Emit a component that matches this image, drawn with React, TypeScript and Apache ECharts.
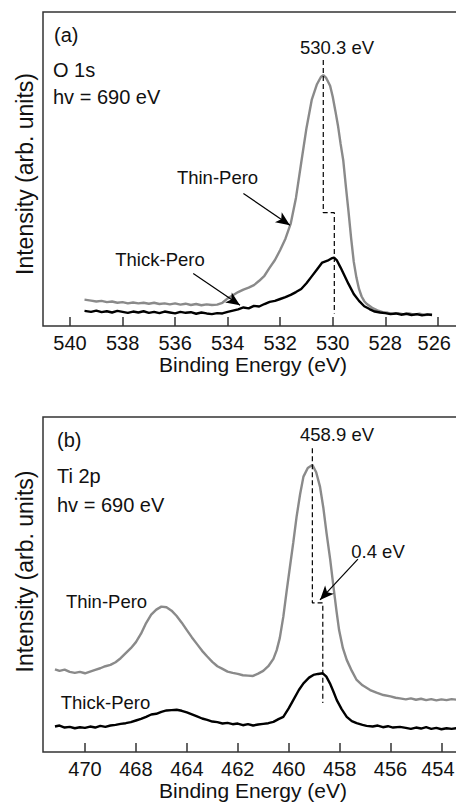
import React, { useEffect, useRef } from "react";
import * as echarts from "echarts";

const FONT = '"Liberation Sans", Arial, Helvetica, sans-serif';
const TXT = "#111111";
const GRAY = "#8a8a8a";
const BLACK = "#000000";

// Panel (a) – O 1s
const ticksA = [540, 538, 536, 534, 532, 530, 528, 526];
const tickLabelsA = ["540", "538", "536", "534", "532", "530", "528", "526"];
// Panel (b) – Ti 2p (labels as printed in the original figure)
const ticksB = [468, 466, 464, 462, 460, 458, 456, 454];
const tickLabelsB = ["470", "468", "464", "462", "460", "458", "456", "454"];

const thinA: number[][] = [
  [539.45, 8.4], [539.2, 8.1], [539.0, 7.8], [538.8, 8.0], [538.6, 7.6], [538.4, 7.8], [538.2, 7.4], [538.0, 7.6],
  [537.8, 7.2], [537.6, 7.5], [537.4, 7.2], [537.2, 7.4], [537.0, 7.1], [536.8, 7.4], [536.6, 7.0], [536.4, 7.2],
  [536.2, 6.9], [536.0, 7.2], [535.8, 6.8], [535.6, 7.1], [535.4, 6.7], [535.2, 7.0], [535.0, 6.6], [534.8, 6.9],
  [534.6, 6.7], [534.4, 6.8], [534.2, 7.4], [534.0, 8.8], [533.8, 9.8], [533.6, 10.8], [533.4, 11.6], [533.2, 12.2],
  [533.0, 13.0], [532.8, 14.4], [532.6, 16.0], [532.4, 18.6], [532.2, 21.0], [532.0, 24.2], [531.8, 27.8], [531.6, 32.6],
  [531.4, 40.8], [531.2, 52.0], [531.0, 63.0], [530.8, 72.0], [530.6, 77.0], [530.45, 79.3], [530.36, 79.9], [530.25, 79.0],
  [530.1, 76.5], [530.0, 73.0], [529.9, 68.5], [529.8, 63.8], [529.7, 58.0], [529.6, 52.8], [529.5, 44.5], [529.4, 36.5],
  [529.3, 28.0], [529.2, 20.5], [529.1, 15.5], [529.0, 11.8], [528.9, 9.4], [528.8, 7.9], [528.7, 7.0], [528.5, 5.8],
  [528.3, 5.0], [528.1, 4.4], [527.9, 4.2], [527.7, 3.9], [527.5, 4.1], [527.3, 3.7], [527.1, 4.0], [526.9, 3.6],
  [526.7, 3.9], [526.5, 3.5], [526.22, 3.7],
];

const thickA: number[][] = [
  [539.45, 4.8], [539.2, 4.5], [539.0, 4.9], [538.8, 4.4], [538.6, 4.7], [538.4, 4.3], [538.2, 4.8], [538.0, 4.5],
  [537.8, 4.2], [537.6, 4.6], [537.4, 4.3], [537.2, 4.7], [537.0, 4.2], [536.8, 4.5], [536.6, 4.1], [536.4, 4.6],
  [536.2, 4.3], [536.0, 4.0], [535.8, 4.5], [535.6, 4.2], [535.4, 4.4], [535.2, 3.9], [535.0, 4.3], [534.8, 4.0],
  [534.6, 3.8], [534.4, 4.1], [534.2, 4.0], [534.0, 4.5], [533.8, 4.9], [533.6, 5.3], [533.4, 5.9], [533.2, 5.6],
  [533.0, 6.4], [532.8, 6.2], [532.6, 7.0], [532.4, 7.7], [532.2, 8.0], [532.0, 8.6], [531.8, 9.2], [531.6, 9.9],
  [531.4, 10.8], [531.2, 11.8], [531.0, 13.6], [530.8, 15.8], [530.6, 18.0], [530.4, 20.2], [530.2, 20.8], [530.05, 21.5],
  [529.95, 21.8], [529.85, 21.0], [529.7, 18.6], [529.55, 16.0], [529.4, 13.4], [529.2, 10.2], [529.0, 8.0], [528.8, 6.3],
  [528.6, 5.4], [528.4, 4.6], [528.2, 4.3], [528.0, 4.1], [527.8, 3.8], [527.6, 4.0], [527.4, 3.6], [527.2, 3.9],
  [527.0, 3.5], [526.8, 3.8], [526.6, 3.4], [526.4, 3.7], [526.22, 3.5],
];

const thinB: number[][] = [
  [469.18, 24.7], [469.0, 24.2], [468.8, 24.6], [468.6, 23.9], [468.4, 23.6], [468.2, 23.9], [468.0, 23.5], [467.8, 24.0],
  [467.6, 24.5], [467.4, 25.0], [467.2, 25.6], [467.0, 26.0], [466.8, 26.8], [466.6, 28.0], [466.4, 29.5], [466.2, 31.0],
  [466.0, 32.8], [465.8, 35.3], [465.6, 38.5], [465.4, 41.0], [465.2, 42.5], [465.0, 43.4], [464.8, 43.2], [464.6, 42.2],
  [464.4, 40.6], [464.2, 38.6], [464.0, 36.4], [463.8, 34.2], [463.6, 32.2], [463.4, 30.2], [463.2, 28.5], [463.0, 26.9],
  [462.8, 25.6], [462.6, 24.8], [462.4, 24.0], [462.2, 23.6], [462.0, 23.3], [461.8, 22.9], [461.6, 22.8], [461.4, 22.7],
  [461.2, 23.4], [461.0, 24.2], [460.8, 25.6], [460.6, 27.8], [460.47, 30.4], [460.35, 34.0], [460.21, 40.4], [460.08, 48.0],
  [459.95, 55.3], [459.82, 62.5], [459.69, 70.2], [459.55, 77.0], [459.42, 82.2], [459.25, 84.8], [459.07, 85.7], [458.92, 83.5],
  [458.77, 79.2], [458.64, 73.0], [458.51, 65.2], [458.37, 57.5], [458.24, 49.3], [458.12, 42.0], [458.02, 36.4], [457.87, 31.0],
  [457.72, 27.5], [457.52, 24.2], [457.33, 21.5], [457.1, 19.9], [456.8, 18.5], [456.55, 17.7], [456.28, 17.0], [456.0, 16.6],
  [455.8, 16.2], [455.63, 16.0], [455.4, 15.7], [455.2, 16.0], [455.0, 15.6], [454.8, 15.9], [454.6, 15.5], [454.4, 15.8],
  [454.2, 15.4], [454.0, 15.7], [453.8, 15.5], [453.6, 15.8], [453.4, 15.6], [453.2, 15.8], [453.0, 15.5], [452.8, 15.7],
];

const thickB: number[][] = [
  [469.18, 7.6], [469.0, 7.9], [468.8, 7.3], [468.6, 7.5], [468.4, 7.1], [468.2, 7.4], [468.0, 7.2], [467.8, 7.6],
  [467.6, 7.3], [467.4, 7.8], [467.2, 7.5], [467.0, 7.9], [466.8, 8.1], [466.6, 8.4], [466.4, 8.6], [466.2, 8.9],
  [466.0, 9.4], [465.8, 9.9], [465.6, 10.5], [465.4, 11.2], [465.2, 11.4], [465.0, 12.0], [464.8, 12.4], [464.6, 12.5],
  [464.4, 12.6], [464.2, 12.3], [464.0, 11.8], [463.8, 11.2], [463.6, 10.6], [463.4, 10.0], [463.2, 9.6], [463.0, 9.1],
  [462.8, 8.9], [462.6, 8.5], [462.4, 8.7], [462.2, 8.3], [462.0, 8.5], [461.8, 8.0], [461.6, 8.3], [461.4, 7.9],
  [461.2, 8.2], [461.0, 8.4], [460.8, 8.6], [460.6, 9.0], [460.4, 9.8], [460.21, 10.5], [460.0, 13.0], [459.82, 15.5],
  [459.6, 18.5], [459.42, 20.5], [459.2, 22.2], [459.03, 23.0], [458.85, 23.3], [458.66, 23.5], [458.52, 22.5], [458.38, 20.5],
  [458.24, 18.0], [458.11, 15.5], [457.92, 12.8], [457.72, 10.5], [457.52, 9.2], [457.33, 8.6], [457.1, 8.1], [456.94, 7.8],
  [456.7, 7.6], [456.5, 7.9], [456.3, 7.4], [456.1, 7.7], [455.9, 7.3], [455.63, 7.5], [455.4, 7.2], [455.2, 6.9],
  [455.0, 7.3], [454.8, 7.0], [454.6, 7.4], [454.4, 6.9], [454.2, 7.2], [454.0, 6.8], [453.8, 7.1], [453.6, 6.9],
  [453.4, 7.1], [453.2, 6.8], [453.0, 7.0], [452.8, 6.9],
];

// Peak-position guide lines (dashed)
const dashA: number[][] = [[530.36, 84.7], [530.36, 36.1], [529.94, 36.1], [529.94, 4.0]];
const dashB: number[][] = [[459.07, 90.7], [459.07, 44.5], [458.66, 44.5], [458.66, 14.6]];

// Arrows [start, end]
const arrowsA: number[][][] = [
  [[533.4, 42.2], [531.63, 32.1]],
  [[535.31, 16.7], [533.53, 6.6]],
];
const arrowsB: number[][][] = [[[457.28, 57.6], [458.77, 45.4]]];

function xAxisFor(gridIndex: number, min: number, max: number, ticks: number[], labels: string[]) {
  return {
    type: "value",
    gridIndex,
    min,
    max,
    inverse: true,
    name: "Binding Energy (eV)",
    nameLocation: "middle",
    nameGap: 19,
    nameTextStyle: { fontSize: 21, color: TXT, fontFamily: FONT, padding: [0, 10, 0, 0] },
    axisLine: { show: false },
    axisTick: { show: true, inside: true, length: 9, customValues: ticks, lineStyle: { color: "#333", width: 1.5 } },
    axisLabel: {
      show: true,
      margin: 7,
      fontSize: 20,
      color: TXT,
      fontFamily: FONT,
      customValues: ticks,
      formatter: (v: number) => {
        const i = ticks.findIndex((t) => Math.abs(t - v) < 1e-6);
        if (i < 0) return "";
        // keep the right-most label inside the page edge
        return i === ticks.length - 1 ? `{e|${labels[i]}}` : labels[i];
      },
      rich: {
        e: { fontSize: 20, color: TXT, fontFamily: FONT, padding: [0, 7, 0, 0] },
      },
    },
    splitLine: { show: false },
  };
}

function yAxisFor(gridIndex: number, padding: number[]) {
  return {
    type: "value",
    gridIndex,
    min: 0,
    max: 100,
    name: "Intensity (arb. units)",
    nameLocation: "middle",
    nameGap: 7,
    nameTextStyle: { fontSize: 23, color: TXT, fontFamily: FONT, padding },
    axisLine: { show: false },
    axisTick: { show: false },
    axisLabel: { show: false },
    splitLine: { show: false },
  };
}

function curve(data: number[][], color: string, idx: number) {
  return {
    type: "line",
    xAxisIndex: idx,
    yAxisIndex: idx,
    data,
    symbol: "none",
    silent: true,
    lineStyle: { color, width: 2.4 },
  };
}

function guide(data: number[][], arrows: number[][][], idx: number) {
  return {
    type: "line",
    xAxisIndex: idx,
    yAxisIndex: idx,
    data,
    symbol: "none",
    silent: true,
    lineStyle: { color: BLACK, width: 1.2, type: [5, 3] },
    markLine: {
      silent: true,
      symbol: ["none", "arrow"],
      symbolSize: [9, 14],
      label: { show: false },
      lineStyle: { color: BLACK, width: 1.2, type: "solid" },
      data: arrows.map((a) => [{ coord: a[0] }, { coord: a[1] }]),
    },
  };
}

function txt(text: string, x: number, y: number, size: number, align: string) {
  return {
    type: "text",
    x,
    y,
    silent: true,
    style: {
      text,
      fill: TXT,
      font: `${size}px ${FONT}`,
      fontSize: size,
      fontFamily: FONT,
      align,
      textAlign: align,
      verticalAlign: "middle",
      textVerticalAlign: "middle",
    },
  };
}

export default function App() {
  const ref = useRef<HTMLDivElement>(null);
  useEffect(() => {
    if (!ref.current) return;
    const chart = echarts.init(ref.current, undefined, { renderer: "svg" });
    chart.setOption({
      animation: false,
      backgroundColor: "#ffffff",
      grid: [
        { left: 43, top: 12, width: 430, height: 314, show: true, borderColor: "#333", borderWidth: 1.5, containLabel: false, outerBoundsMode: "none" },
        { left: 43, top: 417, width: 430, height: 335, show: true, borderColor: "#333", borderWidth: 1.5, containLabel: false, outerBoundsMode: "none" },
      ],
      xAxis: [
        xAxisFor(0, 524.66, 541.03, ticksA, tickLabelsA),
        xAxisFor(1, 452.76, 469.65, ticksB, tickLabelsB),
      ],
      yAxis: [yAxisFor(0, [0, 10, 0, 0]), yAxisFor(1, [0, 0, 0, 26])],
      series: [
        curve(thinA, GRAY, 0),
        curve(thickA, BLACK, 0),
        guide(dashA, arrowsA, 0),
        curve(thinB, GRAY, 1),
        curve(thickB, BLACK, 1),
        guide(dashB, arrowsB, 1),
      ],
      graphic: [
        txt("(a)", 54, 35, 20, "left"),
        txt("O 1s", 53, 70, 20, "left"),
        txt("hv = 690 eV", 53, 97, 20, "left"),
        txt("530.3 eV", 337, 47.5, 18.5, "center"),
        txt("Thin-Pero", 217.5, 177, 18.5, "center"),
        txt("Thick-Pero", 160, 259, 18.5, "center"),
        txt("(b)", 57, 440, 20, "left"),
        txt("Ti 2p", 57, 476, 20, "left"),
        txt("hv = 690 eV", 57, 505, 20, "left"),
        txt("458.9 eV", 337, 434, 18.5, "center"),
        txt("0.4 eV", 378, 551, 18.5, "center"),
        txt("Thin-Pero", 106.5, 601, 18.5, "center"),
        txt("Thick-Pero", 105.5, 702, 18.5, "center"),
      ],
    });
    return () => chart.dispose();
  }, []);
  return (
    <div
      ref={ref}
      style={{ position: "fixed", left: 0, top: 0, width: 456, height: 805, background: "#fff" }}
    />
  );
}
